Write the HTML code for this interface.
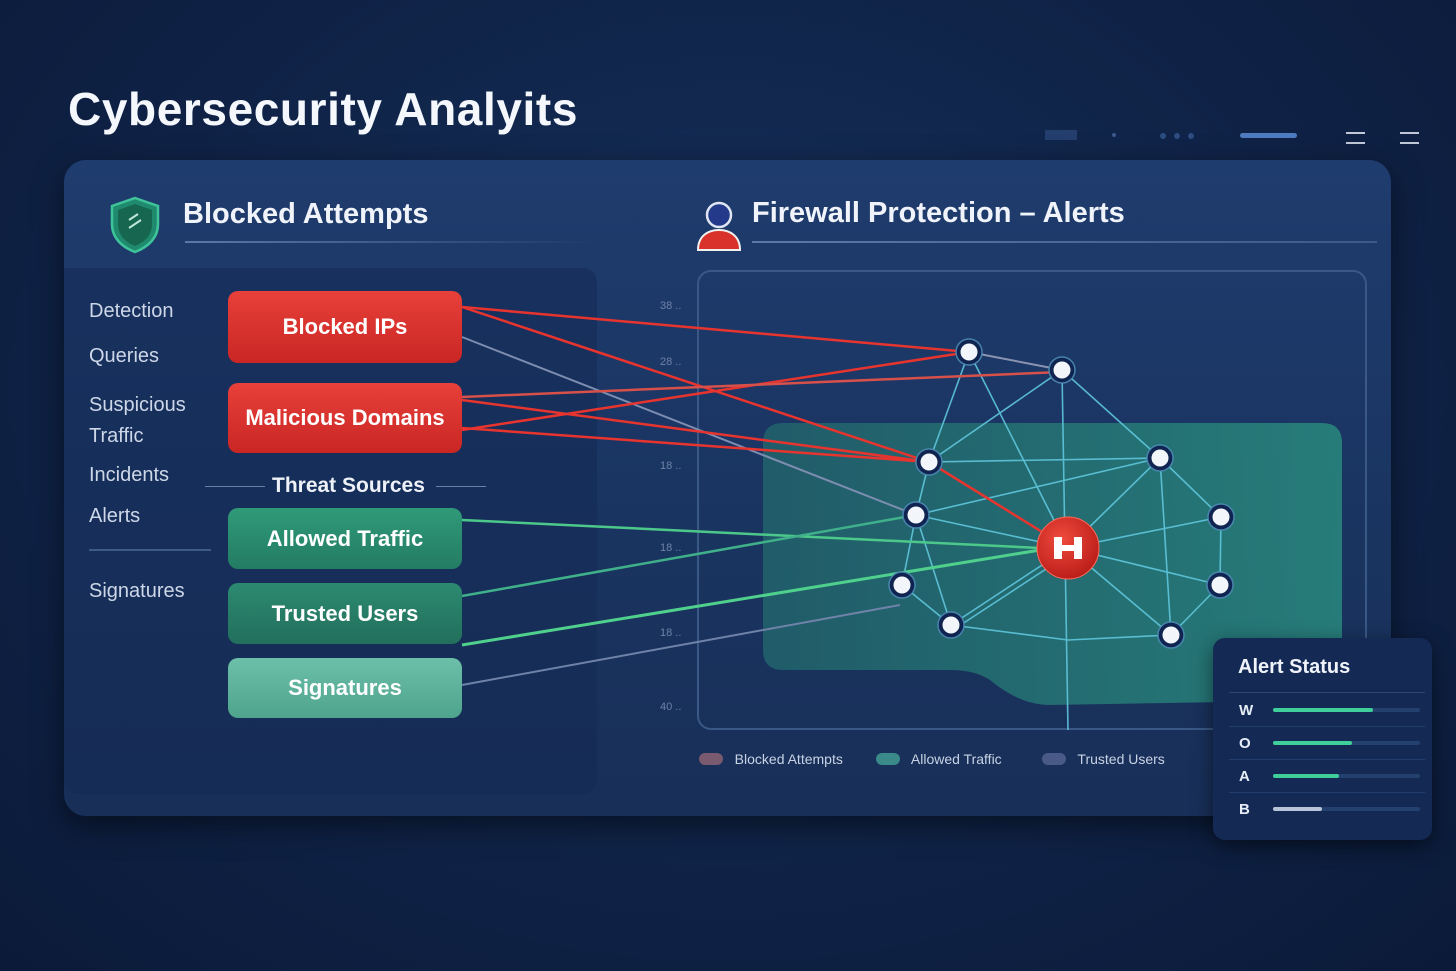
<!DOCTYPE html>
<html><head><meta charset="utf-8"><style>
*{margin:0;padding:0;box-sizing:border-box}
body{width:1456px;height:971px;overflow:hidden;background:radial-gradient(ellipse at 50% 40%,#16305a 0%,#0f2246 60%,#0b1a38 100%);font-family:"Liberation Sans",sans-serif;position:relative;color:#e8eef8}
.abs{position:absolute}
.title{left:68px;top:82px;font-size:46px;font-weight:bold;color:#f4f7fc;letter-spacing:0.6px}
.panel{left:64px;top:160px;width:1327px;height:656px;border-radius:22px;background:linear-gradient(180deg,#1f3c6e 0%,#1a3562 50%,#182f58 100%);box-shadow:0 10px 30px rgba(0,0,0,.5)}
.left{left:64px;top:268px;width:533px;height:526px;border-radius:0 14px 14px 14px;background:rgba(20,42,84,.55)}
.lbl{font-size:20px;color:#cdd7e8}
.btn{left:228px;width:234px;border-radius:10px;font-size:22px;font-weight:bold;color:#fff;text-align:center;display:flex;align-items:center;justify-content:center}
.h2{font-size:29px;font-weight:bold;color:#f0f4fa}
.leg{font-size:14px;color:#c8d2e4}
.sw{width:24px;height:12px;border-radius:6px;display:inline-block}
</style></head><body>
<div class="abs title">Cybersecurity Analyits</div>
<div class="abs" style="left:1045px;top:130px;width:32px;height:10px;background:#243f6e"></div>
<div class="abs" style="left:1112px;top:133px;width:4px;height:4px;border-radius:2px;background:#3a5a8c"></div>
<div class="abs" style="left:1160px;top:133px;width:6px;height:6px;border-radius:3px;background:#2e4e82;box-shadow:14px 0 #2e4e82,28px 0 #2e4e82"></div>
<div class="abs" style="left:1240px;top:133px;width:57px;height:5px;border-radius:3px;background:#4f7cc0"></div>
<div class="abs" style="left:1346px;top:132px;width:19px;height:2px;background:#c0c8d8;box-shadow:0 10px #c0c8d8"></div>
<div class="abs" style="left:1400px;top:132px;width:19px;height:2px;background:#c0c8d8;box-shadow:0 10px #c0c8d8"></div>

<div class="abs panel"></div>
<div class="abs left"></div>

<svg class="abs" style="left:108px;top:196px" width="54" height="58" viewBox="0 0 54 58"><path d="M27 2 L50 10 L50 28 C50 42 40 51 27 56 C14 51 4 42 4 28 L4 10 Z" fill="#1f8a6e" stroke="#3fc49a" stroke-width="2.5"/><path d="M27 8 L44 14 L44 28 C44 39 37 46 27 50 C17 46 10 39 10 28 L10 14Z" fill="#17664f"/><path d="M21 24 L30 18 M21 32 L33 24" stroke="#bde8d8" stroke-width="2"/></svg>
<div class="abs h2" style="left:183px;top:198px">Blocked Attempts</div>
<div class="abs" style="left:185px;top:241px;width:410px;height:2px;background:linear-gradient(90deg,#5a78a8,rgba(90,120,168,0))"></div>

<svg class="abs" style="left:694px;top:198px" width="50" height="58" viewBox="0 0 50 58"><circle cx="25" cy="17" r="12" fill="#233a8a" stroke="#dfe6f2" stroke-width="2.5"/><path d="M4 52 C4 38 14 32 25 32 C36 32 46 38 46 52 Z" fill="#d9322c" stroke="#f0f0f0" stroke-width="2"/></svg>
<div class="abs h2" style="left:752px;top:197px">Firewall Protection – Alerts</div>
<div class="abs" style="left:752px;top:241px;width:625px;height:2px;background:linear-gradient(90deg,#5a78a8,#3a5a88)"></div>

<div class="abs lbl" style="left:89px;top:300px">Detection</div>
<div class="abs lbl" style="left:89px;top:345px">Queries</div>
<div class="abs lbl" style="left:89px;top:390px;line-height:31px">Suspicious<br>Traffic</div>
<div class="abs lbl" style="left:89px;top:464px">Incidents</div>
<div class="abs lbl" style="left:89px;top:505px">Alerts</div>
<div class="abs" style="left:89px;top:549px;width:122px;height:2px;background:#3e5a88"></div>
<div class="abs lbl" style="left:89px;top:580px">Signatures</div>

<div class="abs" style="left:697px;top:270px;width:670px;height:460px;border:2px solid #3a5886;border-radius:14px"></div>
<div class="abs" style="left:660px;top:300px;font-size:11px;color:#6d83a8">38 ..</div>
<div class="abs" style="left:660px;top:356px;font-size:11px;color:#6d83a8">28 ..</div>
<div class="abs" style="left:660px;top:460px;font-size:11px;color:#6d83a8">18 ..</div>
<div class="abs" style="left:660px;top:542px;font-size:11px;color:#6d83a8">18 ..</div>
<div class="abs" style="left:660px;top:627px;font-size:11px;color:#6d83a8">18 ..</div>
<div class="abs" style="left:660px;top:701px;font-size:11px;color:#6d83a8">40 ..</div>

<svg class="abs" style="left:0;top:0" width="1456" height="971">
<defs><radialGradient id="rg" cx="0.4" cy="0.35" r="0.7"><stop offset="0" stop-color="#f04a3c"/><stop offset="1" stop-color="#b81c18"/></radialGradient>
<linearGradient id="tg" x1="0" x2="1"><stop offset="0" stop-color="#21606a"/><stop offset="1" stop-color="#28847c"/></linearGradient></defs>
<path d="M783 423 L1322 423 Q1342 423 1342 443 L1342 700 L1050 705 Q1020 705 990 680 Q975 670 950 670 L783 670 Q763 670 763 650 L763 443 Q763 423 783 423Z" fill="url(#tg)" opacity="0.9"/>
<g stroke="#5fc6dc" stroke-width="1.6" fill="none" opacity="0.9">
<line x1="969" y1="352" x2="929" y2="462"/><line x1="969" y1="352" x2="1068" y2="548"/>
<line x1="1062" y1="370" x2="929" y2="462"/><line x1="1062" y1="370" x2="1068" y2="730"/>
<line x1="1062" y1="370" x2="1160" y2="458"/>
<line x1="929" y1="462" x2="1160" y2="458"/><line x1="929" y1="462" x2="916" y2="515"/><line x1="929" y1="462" x2="1068" y2="548"/>
<line x1="916" y1="515" x2="1160" y2="458"/><line x1="916" y1="515" x2="1068" y2="548"/><line x1="916" y1="515" x2="902" y2="585"/><line x1="916" y1="515" x2="951" y2="625"/>
<line x1="902" y1="585" x2="951" y2="625"/><line x1="951" y1="625" x2="1068" y2="548"/><line x1="956" y1="628" x2="1072" y2="552"/>
<polyline points="951,625 1068,640 1171,635"/>
<line x1="1160" y1="458" x2="1068" y2="548"/><line x1="1160" y1="458" x2="1171" y2="635"/><line x1="1160" y1="458" x2="1221" y2="517"/>
<line x1="1221" y1="517" x2="1068" y2="548"/><line x1="1221" y1="517" x2="1220" y2="585"/>
<line x1="1068" y1="548" x2="1220" y2="585"/><line x1="1220" y1="585" x2="1171" y2="635"/><line x1="1068" y1="548" x2="1171" y2="635"/>
</g>
<line x1="969" y1="352" x2="1062" y2="370" stroke="#8a94b0" stroke-width="2"/>
<g fill="none" stroke-width="2.5">
<line x1="462" y1="337" x2="916" y2="515" stroke="#7d8db0" stroke-width="2"/>
<line x1="462" y1="685" x2="900" y2="605" stroke="#6f82a8" stroke-width="2"/>
<line x1="462" y1="307" x2="969" y2="352" stroke="#e8342e"/>
<line x1="462" y1="307" x2="929" y2="462" stroke="#e8342e"/>
<line x1="462" y1="430" x2="969" y2="352" stroke="#e8342e"/>
<line x1="462" y1="397" x2="1062" y2="372" stroke="#d8504a"/>
<line x1="462" y1="400" x2="929" y2="462" stroke="#e8342e"/>
<line x1="462" y1="428" x2="929" y2="462" stroke="#e8342e"/>
<line x1="929" y1="462" x2="1068" y2="548" stroke="#e8342e"/>
<line x1="462" y1="520" x2="1040" y2="548" stroke="#4cc98a"/>
<line x1="462" y1="596" x2="916" y2="515" stroke="#3fb08a"/>
<line x1="462" y1="645" x2="1040" y2="550" stroke="#4fd08c" stroke-width="3"/>
</g>
<g fill="#f2f5fa" stroke="#0f2450" stroke-width="5">
<circle cx="969" cy="352" r="11"/><circle cx="1062" cy="370" r="11"/><circle cx="929" cy="462" r="11"/><circle cx="1160" cy="458" r="11"/>
<circle cx="916" cy="515" r="11"/><circle cx="1221" cy="517" r="11"/><circle cx="902" cy="585" r="11"/><circle cx="1220" cy="585" r="11"/>
<circle cx="951" cy="625" r="11"/><circle cx="1171" cy="635" r="11"/></g>
<g fill="none" stroke="#5fa8d0" stroke-width="1.5" opacity="0.7">
<circle cx="969" cy="352" r="13"/><circle cx="1062" cy="370" r="13"/><circle cx="929" cy="462" r="13"/><circle cx="1160" cy="458" r="13"/>
<circle cx="916" cy="515" r="13"/><circle cx="1221" cy="517" r="13"/><circle cx="902" cy="585" r="13"/><circle cx="1220" cy="585" r="13"/>
<circle cx="951" cy="625" r="13"/><circle cx="1171" cy="635" r="13"/></g>
<circle cx="1068" cy="548" r="31" fill="url(#rg)" stroke="#ff6a5a" stroke-width="1"/>
<path d="M1054 537 h8 v8 h12 v-8 h8 v22 h-8 v-8 h-12 v8 h-8z" fill="#fff"/>
</svg>

<div class="abs btn" style="top:291px;height:72px;background:linear-gradient(180deg,#e8403a,#c92624)">Blocked IPs</div>
<div class="abs btn" style="top:383px;height:70px;background:linear-gradient(180deg,#e8403a,#c92624)">Malicious Domains</div>
<div class="abs" style="left:205px;top:486px;width:60px;height:1px;background:#6a80a8"></div>
<div class="abs" style="left:272px;top:474px;font-size:21px;font-weight:bold;color:#eef2f8">Threat Sources</div>
<div class="abs" style="left:436px;top:486px;width:50px;height:1px;background:#6a80a8"></div>
<div class="abs btn" style="top:508px;height:61px;background:linear-gradient(180deg,#2f9a78,#237c63)">Allowed Traffic</div>
<div class="abs btn" style="top:583px;height:61px;background:linear-gradient(180deg,#2c8a70,#226f5c)">Trusted Users</div>
<div class="abs btn" style="top:658px;height:60px;background:linear-gradient(180deg,#6cbfa8,#4fa48e)">Signatures</div>

<div class="abs leg" style="left:699px;top:751px"><span class="sw" style="background:#7a5a6e;vertical-align:-1px"></span>&nbsp;&nbsp; Blocked Attempts</div>
<div class="abs leg" style="left:876px;top:751px"><span class="sw" style="background:#3a8a8a;vertical-align:-1px"></span>&nbsp;&nbsp; Allowed Traffic</div>
<div class="abs leg" style="left:1042px;top:751px"><span class="sw" style="background:#4a5a88;vertical-align:-1px"></span>&nbsp;&nbsp; Trusted Users</div>

<div class="abs" style="left:1213px;top:638px;width:219px;height:202px;border-radius:12px;background:#142a55;box-shadow:0 6px 20px rgba(0,0,0,.5)">
<div style="position:absolute;left:25px;top:18px;font-size:20px;font-weight:bold;color:#f0f4fa">Alert Status</div>
<div style="position:absolute;left:16px;top:54px;width:196px;height:1px;background:#2c4676"></div>
<div style="position:absolute;left:26px;top:64px;font-size:15px;font-weight:bold">W</div>
<div style="position:absolute;left:60px;top:70px;width:147px;height:4px;background:#24406e;border-radius:2px"><div style="width:100px;height:4px;background:#3fcf9a;border-radius:2px"></div></div>
<div style="position:absolute;left:16px;top:88px;width:196px;height:1px;background:#223e6c"></div>
<div style="position:absolute;left:26px;top:97px;font-size:15px;font-weight:bold">O</div>
<div style="position:absolute;left:60px;top:103px;width:147px;height:4px;background:#24406e;border-radius:2px"><div style="width:79px;height:4px;background:#3fcf9a;border-radius:2px"></div></div>
<div style="position:absolute;left:16px;top:121px;width:196px;height:1px;background:#223e6c"></div>
<div style="position:absolute;left:26px;top:130px;font-size:15px;font-weight:bold">A</div>
<div style="position:absolute;left:60px;top:136px;width:147px;height:4px;background:#24406e;border-radius:2px"><div style="width:66px;height:4px;background:#3fcf9a;border-radius:2px"></div></div>
<div style="position:absolute;left:16px;top:154px;width:196px;height:1px;background:#223e6c"></div>
<div style="position:absolute;left:26px;top:163px;font-size:15px;font-weight:bold">B</div>
<div style="position:absolute;left:60px;top:169px;width:147px;height:4px;background:#24406e;border-radius:2px"><div style="width:49px;height:4px;background:#b8c4d8;border-radius:2px"></div></div>
</div>
</body></html>
